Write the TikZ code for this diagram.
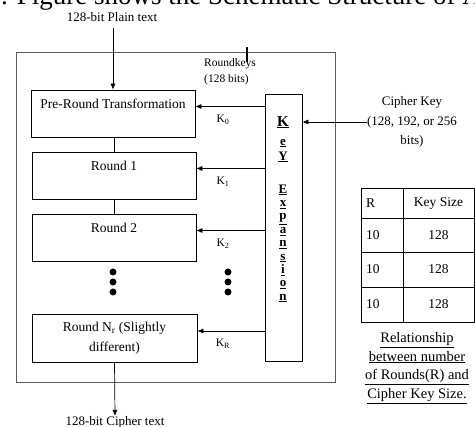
\documentclass[tikz,border=0pt]{standalone}
\usepackage{fontspec}
\setmainfont{Liberation Serif}
\usetikzlibrary{arrows.meta}
\definecolor{edgegray}{HTML}{5C5C5C}

\begin{document}
\begin{tikzpicture}[x=1pt, y=-1pt,
  stage/.style={draw, line width=0.7pt, minimum width=164pt, minimum height=47pt,
                inner sep=0pt, align=center, font=\fontsize{13.5}{20}\selectfont},
  klabel/.style={font=\fontsize{11.5}{14}\selectfont},
  note/.style={inner sep=0pt, align=center, font=\fontsize{13}{19.5}\selectfont},
  cell/.style={draw, line width=0.8pt, inner sep=0pt, font=\fontsize{13.5}{16}\selectfont},
  rcell/.style={cell, text width=32pt, inner xsep=5pt, align=left},
  feed/.style={line width=0.7pt, -{Latex[length=6pt,width=5pt]}},
  bullet/.style={circle, fill, inner sep=0pt, minimum size=7pt},
]
\useasboundingbox (0,0) rectangle (475,427);

\node[anchor=base west, inner sep=0pt, font=\fontsize{27}{30}\selectfont] (head) at (1,5)
  {. Figure shows the Schematic Structure of A};

\node[note] (ptxt) at (112,17) {128-bit Plain text};
\node[draw=edgegray, line width=0.8pt, minimum width=319pt, minimum height=330pt, inner sep=0pt]
  (frame) at (175.5,217) {};
\node[note, anchor=north west, align=left, font=\fontsize{11.5}{16}\selectfont]
  (rkeys) at (204,58) {Roundkeys\\(128 bits)};

\node[stage] (pre) at (113,113.5) {Pre-Round Transformation\\\phantom{Pre-Round}};
\node[stage] (r1) at (114,175.5) {Round 1\\\phantom{Round 1}};
\node[stage] (r2) at (114,237.5) {Round 2\\\phantom{Round 2}};
\node[stage, minimum width=165pt, minimum height=48pt] (rn) at (114.5,338)
  {Round N\textsubscript{r} (Slightly\\different)};

\node[draw, line width=0.7pt, minimum width=37pt, minimum height=267pt, inner sep=0pt]
  (kx) at (283.5,227.5) {};
\node[inner sep=0pt, align=center, font=\fontsize{13}{13.4}\selectfont\bfseries, anchor=north]
  (kword) at (283,116) {{\fontsize{15}{13.4}\selectfont\underline{K}}\\[5.6pt]\underline{e}\\[1.6pt]\underline{Y}\\[19.6pt]
  \underline{E}\\\underline{x}\\\underline{p}\\\underline{a}\\\underline{n}\\\underline{s}\\
  \underline{i}\\\underline{o}\\\underline{n}};

\node[klabel] (k0) at (223,120) {K\textsubscript{0}};
\node[klabel] (k1) at (223,182) {K\textsubscript{1}};
\node[klabel] (k2) at (223,244) {K\textsubscript{2}};
\node[klabel] (kr) at (223,344) {K\textsubscript{R}};

\node[bullet] (ldot1) at (113,272) {};
\node[bullet] (ldot2) at (113,282) {};
\node[bullet] (ldot3) at (113,292) {};
\node[bullet] (rdot1) at (228,272) {};
\node[bullet] (rdot2) at (228,282) {};
\node[bullet] (rdot3) at (228,292) {};

\node[note] (ctxt) at (115,422) {128-bit Cipher text};
\node[note] (ckey) at (412,122) {Cipher Key\\(128, 192, or 256\\bits)};

\node[rcell, minimum height=30pt] (t11) at (382,203) {R};
\node[cell, minimum width=71pt, minimum height=30pt] (t12) at (438.5,203) {Key Size};
\node[rcell, minimum height=34pt] (t21) at (382,235) {10};
\node[cell, minimum width=71pt, minimum height=34pt] (t22) at (438.5,235) {128};
\node[rcell, minimum height=35pt] (t31) at (382,269.5) {10};
\node[cell, minimum width=71pt, minimum height=35pt] (t32) at (438.5,269.5) {128};
\node[rcell, minimum height=35pt] (t41) at (382,304.5) {10};
\node[cell, minimum width=71pt, minimum height=35pt] (t42) at (438.5,304.5) {128};

\node[note, font=\fontsize{14.5}{18.7}\selectfont] (capt) at (417,368)
  {\underline{Relationship}\\\underline{between number}\\\underline{of Rounds(R) and}\\\underline{Cipher Key Size.}};

\draw[line width=1.2pt] (247,47) -- (247,62);

\draw[feed, shorten <=6pt] (pre.north |- ptxt.south) -- (pre.north);
\draw[line width=0.7pt] (pre.south -| r1.north) -- (r1.north);
\draw[line width=0.7pt] (r1.south) -- (r2.north);
\draw[feed] (rn.south) -- (ctxt.north);

\coordinate (in0) at ([yshift=7pt]pre.east);
\coordinate (in1) at ([yshift=7pt]r1.east);
\coordinate (in2) at ([yshift=7pt]r2.east);
\coordinate (inr) at ([yshift=7pt]rn.east);
\draw[feed] (kx.west |- in0) -- (in0);
\draw[feed] (kx.west |- in1) -- (in1);
\draw[feed] (kx.west |- in2) -- (in2);
\draw[feed] (kx.west |- inr) -- (inr);

\draw[feed] (ckey.west) -- (kx.east |- ckey.west);

\end{tikzpicture}
\end{document}
